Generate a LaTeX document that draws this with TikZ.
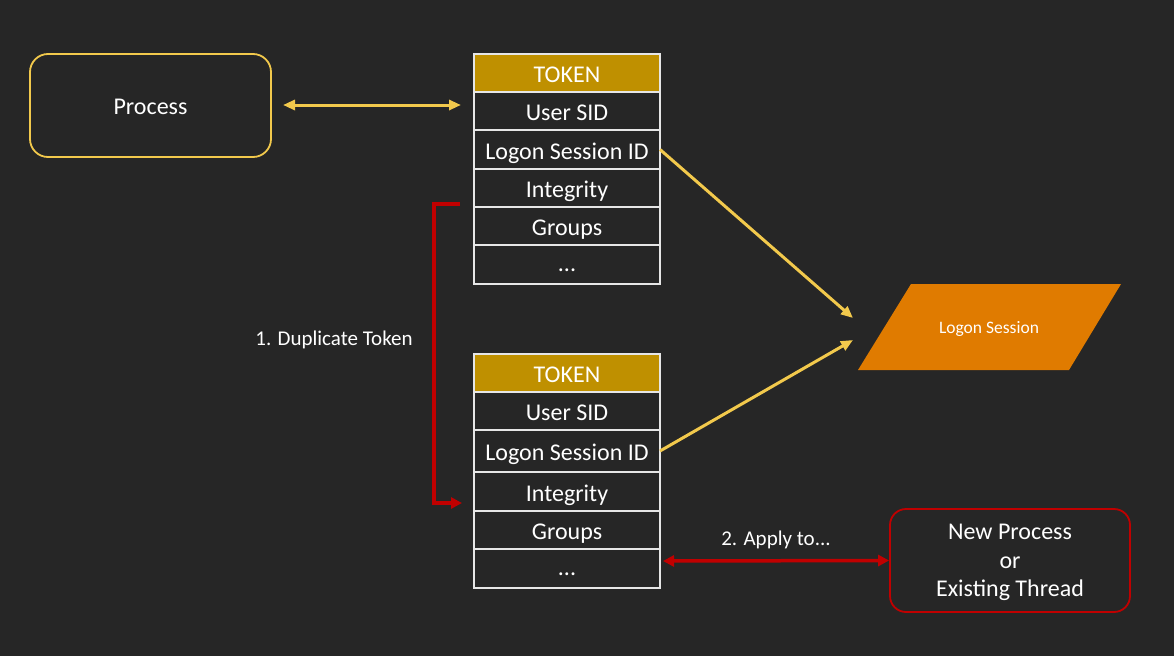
\documentclass[tikz,border=0pt]{standalone}
\usepackage{fontspec}
\setmainfont{Carlito}
\usetikzlibrary{arrows.meta}
\definecolor{bg}{HTML}{262626}
\definecolor{ylw}{HTML}{F2C94C}
\definecolor{gold}{HTML}{BF9000}
\definecolor{orng}{HTML}{E07B00}
\definecolor{rd}{HTML}{C00000}
\definecolor{gridc}{HTML}{E6E6E6}
\tikzset{
  row/.style={draw=gridc, line width=1.4pt, minimum width=186pt, inner sep=0pt, outer sep=0pt,
     text=white, font=\fontsize{24}{28}\selectfont, anchor=north west, fill=bg,
     text height=19pt, text depth=0pt},
  hdr/.style={row, fill=gold},
  ytip/.style={-{Triangle[length=12pt,width=10pt]}},
  ydtip/.style={{Triangle[length=12pt,width=10pt]}-{Triangle[length=12pt,width=10pt]}},
  lbl/.style={text=white, inner sep=0pt},
}
\begin{document}
\begin{tikzpicture}[x=1pt,y=-1pt]
\fill[bg] (0,0) rectangle (1174,656);
\useasboundingbox (0,0) rectangle (1174,656);
% Process box
\node[draw=ylw, line width=1.8pt, rounded corners=18pt, minimum width=241pt, minimum height=103pt,
  text=white, font=\fontsize{24}{28}\selectfont, text height=18pt, text depth=0pt] (proc) at (150.5,105.5) {Process};
% Token 1
\node[hdr, minimum height=38pt] (ta1) at (474,54) {TOKEN};
\node[row, minimum height=38pt] (ta2) at (474,92) {User SID};
\node[row, minimum height=39pt] (ta3) at (474,130) {Logon Session ID};
\node[row, minimum height=38pt] (ta4) at (474,169) {Integrity};
\node[row, minimum height=38pt] (ta5) at (474,207) {Groups};
\node[row, minimum height=39pt, text height=14pt] (ta6) at (474,245) {...};
% Token 2
\node[hdr, minimum height=38pt] (tb1) at (474,354) {TOKEN};
\node[row, minimum height=38pt] (tb2) at (474,392) {User SID};
\node[row, minimum height=42pt] (tb3) at (474,430) {Logon Session ID};
\node[row, minimum height=39pt] (tb4) at (474,472) {Integrity};
\node[row, minimum height=38pt] (tb5) at (474,511) {Groups};
\node[row, minimum height=39pt, text height=14pt] (tb6) at (474,549) {...};
% Logon session
\fill[orng] (858,370) -- (911,284) -- (1121,284) -- (1069,370) -- cycle;
\node[lbl, font=\fontsize{17.5}{21}\selectfont, text height=13pt, text depth=0pt] (ls) at (989,327) {Logon Session};
\coordinate (lsa) at (853,318);
\coordinate (lsb) at (853,340);
% New process box
\node[draw=rd, line width=1.8pt, rounded corners=16pt, minimum width=240pt, minimum height=103pt,
  text=white, font=\fontsize{24}{28.5}\selectfont, align=center, inner sep=0pt] (np) at (1010,560.5) {};
\node[lbl, font=\fontsize{24}{28.5}\selectfont, align=center, yshift=-2pt] (npt) at (np.center) {New Process\\or\\Existing Thread};
% Arrows
\coordinate (pa) at (283,105);
\coordinate (pb) at (461,105);
\draw[ylw, line width=3pt, ydtip] (pa) -- (pb);
\draw[ylw, line width=3pt, ytip] (ta3.east) -- (lsa);
\draw[ylw, line width=3pt, ytip] (tb3.east) -- (lsb);
% Duplicate bracket
\coordinate (da) at (460,204);
\coordinate (db) at (462,503);
\draw[rd, line width=3.5pt, -{Triangle[length=11pt,width=11pt]}] (da) -- (434,204) -- (434,503) -- (db);
\node[lbl, font=\fontsize{21}{25}\selectfont, text height=16pt, text depth=0pt] (dup) at (334,337) {1. Duplicate Token};
% Apply arrow
\coordinate (aa) at (663,561);
\draw[rd, line width=3.5pt, {Triangle[length=11pt,width=11pt]}-{Triangle[length=11pt,width=11pt]}] (aa) -- (np.west);
\node[lbl, font=\fontsize{21}{25}\selectfont, text height=16pt, text depth=0pt] (app) at (776,537) {2. Apply to...};
\end{tikzpicture}
\end{document}
